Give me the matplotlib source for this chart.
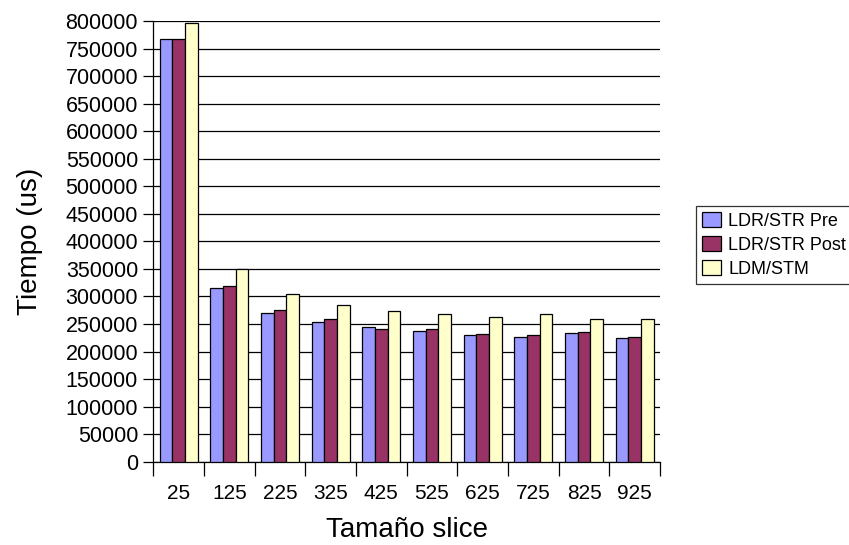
import numpy as np
import matplotlib
matplotlib.use("Agg")
import matplotlib.pyplot as plt

plt.rcParams["font.family"] = ["Liberation Sans", "DejaVu Sans"]

slice_sizes = ["25", "125", "225", "325", "425", "525", "625", "725", "825", "925"]
ldr_str_pre = [766500, 315700, 269400, 252900, 244000, 238000, 230800, 227200, 234400, 224600]
ldr_str_post = [766500, 318300, 275500, 258400, 241500, 240400, 232600, 229500, 235000, 226400]
ldm_stm = [795800, 349500, 303700, 285300, 273600, 268000, 263400, 268000, 259800, 258500]

series = [
    ("LDR/STR Pre", ldr_str_pre, "#9999FF"),
    ("LDR/STR Post", ldr_str_post, "#993366"),
    ("LDM/STM", ldm_stm, "#FFFFCC"),
]

fig = plt.figure(figsize=(8.49, 5.45), dpi=100)
ax = fig.add_axes([0.1806, 0.1528, 0.5968, 0.8087])

n = len(slice_sizes)
x = np.arange(n)
width = 0.25
for j, (label, values, color) in enumerate(series):
    ax.bar(x + 0.125 + width * (j + 0.5), values, width, color=color,
           edgecolor="black", linewidth=0.9, label=label, zorder=3)

ax.set_xlim(0, n)
ax.set_ylim(0, 800000)
ax.set_yticks(np.arange(0, 800001, 50000))
ax.yaxis.grid(True, color="black", linewidth=0.9, zorder=0)
ax.tick_params(axis="y", direction="out", length=7, width=0.9, labelsize=15.5, pad=4)

# category boundaries carry the tick marks, labels sit in the middle
ax.set_xticks(np.arange(0, n + 1))
ax.set_xticklabels([])
ax.set_xticks(x + 0.5, minor=True)
ax.set_xticklabels(slice_sizes, minor=True, fontsize=15)
ax.tick_params(axis="x", which="major", direction="out", length=10, width=0.9)
ax.tick_params(axis="x", which="minor", length=0, pad=16)

for side in ("top", "right"):
    ax.spines[side].set_visible(False)
for side in ("left", "bottom"):
    ax.spines[side].set_linewidth(0.9)

ax.set_xlabel("Tamaño slice", fontsize=20, labelpad=10)
ax.set_ylabel("Tiempo (us)", fontsize=20, labelpad=16)

leg = fig.legend(loc="upper left", bbox_to_anchor=(696 / 849, 1 - 206 / 545),
                 fontsize=13, frameon=True, fancybox=False, edgecolor="black",
                 borderaxespad=0, borderpad=0.35, labelspacing=0.35,
                 handlelength=1.05, handleheight=0.9, handletextpad=0.4)
leg.get_frame().set_linewidth(0.9)

fig.savefig("out.png", dpi=100)
